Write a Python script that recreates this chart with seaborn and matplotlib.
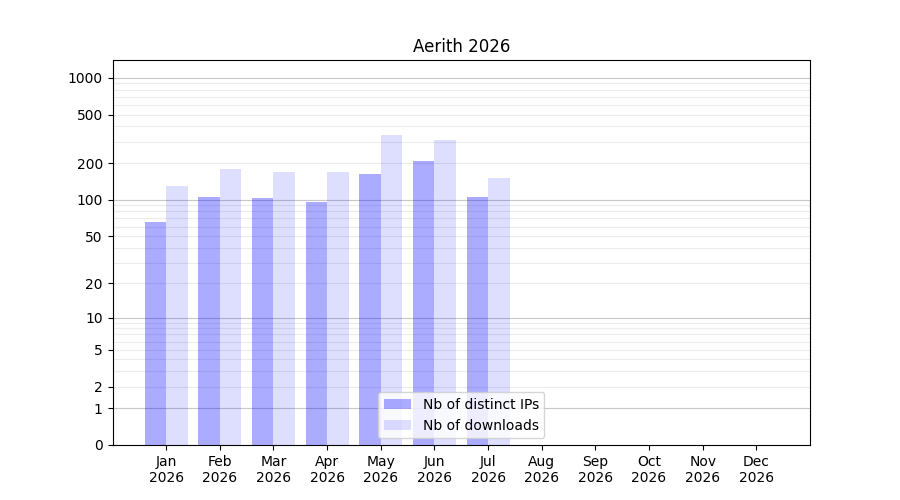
import numpy as np
import pandas as pd
import matplotlib
matplotlib.use('Agg')
import matplotlib.pyplot as plt
import seaborn as sns

months = ['Jan', 'Feb', 'Mar', 'Apr', 'May', 'Jun', 'Jul', 'Aug', 'Sep', 'Oct', 'Nov', 'Dec']
year = '2026'
distinct_ips = [65, 105, 103, 95, 162, 207, 105, 0, 0, 0, 0, 0]
downloads = [129, 178, 168, 168, 338, 308, 150, 0, 0, 0, 0, 0]
y_ticks = [0, 1, 2, 5, 10, 20, 50, 100, 200, 500, 1000]
alphas = [0.33, 0.13]

# long format for seaborn hue dodge
data = pd.DataFrame({
    'Month': months * 2,
    'Value': distinct_ips + downloads,
    'Series': ['Nb of distinct IPs'] * 12 + ['Nb of downloads'] * 12,
})

fig, ax = plt.subplots(figsize=(9, 5), dpi=100)

sns.barplot(data=data, x='Month', y='Value', hue='Series', order=months,
            palette=['blue', 'blue'], width=0.8, ax=ax, saturation=1)

# transparency per series
for container, alpha in zip(ax.containers, alphas):
    for bar in container:
        bar.set_alpha(alpha)
        bar.set_edgecolor('none')

# log(1+x) scale so 0 fits on the axis
ax.set_yscale('function', functions=(lambda v: np.log10(1 + np.clip(v, 0, None)),
                                     lambda v: 10 ** v - 1))
ax.set_ylim(0, 1400)
ax.set_xlim(-1, 12)
ax.set_yticks(y_ticks)
ax.set_yticklabels([str(t) for t in y_ticks])

# grid: decades darker, in-between lighter
for d in [1, 10, 100]:
    for m in range(2, 10):
        ax.axhline(d * m, color='#ececec', linewidth=0.8, zorder=0)
for d in [1, 10, 100, 1000]:
    ax.axhline(d, color='#c8c8c8', linewidth=0.8, zorder=0)

ax.set_xticks(range(12))
ax.set_xticklabels([f'{m}\n{year}' for m in months])
ax.set_xlabel('')
ax.set_ylabel('')
ax.set_title('Aerith 2026')
leg = ax.legend(loc='lower center')
for handle, alpha in zip(leg.legend_handles, alphas):
    handle.set_alpha(alpha)
    handle.set_edgecolor('none')

plt.savefig('out.png')
